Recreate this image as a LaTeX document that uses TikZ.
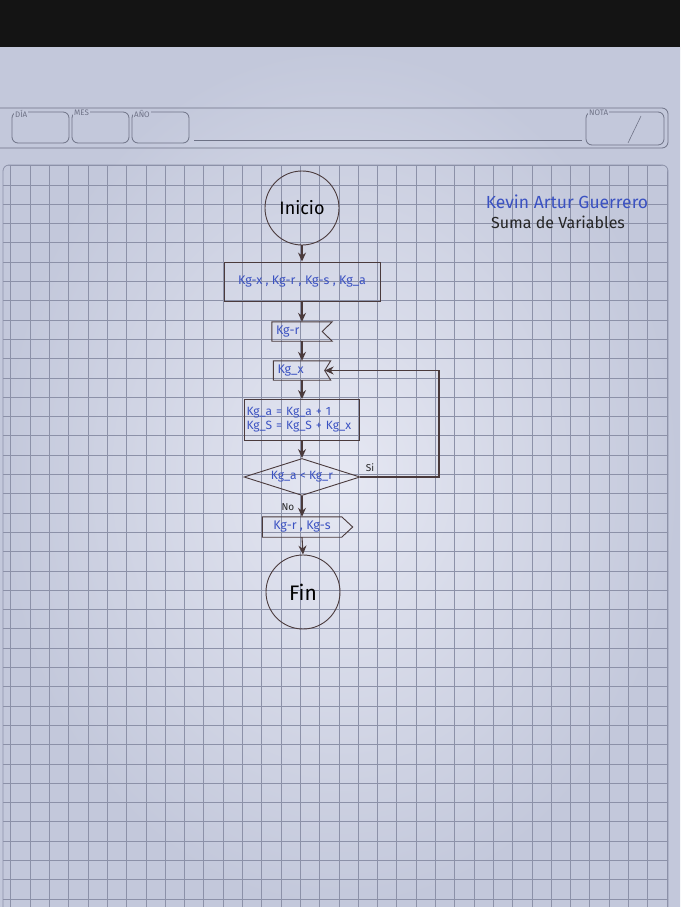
\documentclass[tikz,border=0pt]{standalone}
\usepackage{fontspec}
\setmainfont{Fira Sans}
\usetikzlibrary{shapes.geometric, arrows.meta}
\definecolor{papel}{HTML}{C3C8DB}
\definecolor{papelclaro}{HTML}{E6E8F3}
\definecolor{cuadro}{HTML}{8C91A8}
\definecolor{trazo}{HTML}{4A3A3C}
\definecolor{tinta}{HTML}{3B52C2}
\definecolor{impreso}{HTML}{6E7286}

\tikzset{
    circulo/.style = {draw = trazo, circle, line width = 0.9pt, minimum size = 74pt, inner sep = 0pt, font = \fontsize{18}{20}\selectfont},
    caja/.style = {draw = trazo, rectangle, line width = 0.9pt, inner sep = 2pt, text = tinta, font = \fontsize{12.5}{14}\selectfont},
    hueco/.style = {rectangle, inner sep = 2pt, text = tinta, font = \fontsize{12.5}{14}\selectfont},
    rombo/.style = {draw = trazo, diamond, aspect = 3.1, line width = 0.9pt, minimum width = 116pt, minimum height = 37pt, inner sep = 0pt, text = tinta, font = \fontsize{12}{14}\selectfont},
    link/.style = {-{Stealth[length = 9pt, width = 8pt]}, line width = 1.1pt, color = trazo},
    cuadricula/.style = {line width = 0.45pt, color = cuadro},
    marco/.style = {draw = impreso, line width = 0.8pt, rounded corners = 6pt},
    rotulo/.style = {fill = papel, inner sep = 1pt, text = impreso, font = \fontsize{8}{9}\selectfont}
}

\begin{document}
\begin{tikzpicture}[x = 1pt, y = -1pt]
        \useasboundingbox (0, 0) rectangle (680, 907);

        % Paper and notebook
        \fill [black!92] (0, 0) rectangle (680, 48);
        \shade [inner color = papelclaro, outer color = papel] (0, 48) rectangle (680, 907);

        % Header
        \draw [marco] (-10, 108) rectangle (668, 148);
        \draw [marco] (12, 112) rectangle (69, 143);
        \draw [marco] (72, 112) rectangle (129, 143);
        \draw [marco] (132, 112) rectangle (189, 143);
        \draw [impreso, line width = 0.6pt] (194, 140) -- (582, 140);
        \draw [marco] (586, 112) rectangle (664, 145);
        \draw [impreso, line width = 0.6pt] (628, 143) -- (641, 116);
        \node [rotulo, anchor = north west] at (14, 109) {DÍA};
        \node [rotulo, anchor = north west] at (73, 109) {MES};
        \node [rotulo, anchor = north west] at (133, 109) {AÑO};
        \node [rotulo, anchor = north west] at (588, 109) {NOTA};

        % Grid
        \begin{scope}
            \clip [rounded corners = 8pt] (3, 165) rectangle (668, 930);
            \foreach \i in {0,...,34} \draw [cuadricula] ({10.7 + 19.3*\i}, 160) -- ++(0, 780);
            \foreach \j in {0,...,40} \draw [cuadricula] (0, {165.5 + 19.3*\j}) -- ++(680, 0);
        \end{scope}
        \draw [marco, draw = cuadro] (3, 165) rectangle (668, 930);

        % Names
        \node [text = tinta, font = \fontsize{17.5}{19}\selectfont] (autor) at (567, 202) {Kevin Artur Guerrero};
        \node [text = black!85, font = \fontsize{16}{18}\selectfont] (titulo) at (558, 222) {Suma de Variables};

        % Nodes
        \node [circulo] (inicio) at (302, 208) {Inicio};
        \node [caja, minimum width = 156pt, minimum height = 39pt] (entrada) at (302, 281.5) {Kg-x , Kg-r , Kg-s , Kg\_a};
        \node [hueco, minimum width = 60pt, minimum height = 19pt, text width = 52pt] (leer) at (302, 331.5) {Kg-r};
        \node [hueco, minimum width = 57pt, minimum height = 19pt, text width = 49pt] (leerx) at (302, 370.5) {Kg\_x};
        \node [caja, minimum width = 115pt, minimum height = 41pt, text width = 111pt, align = left, inner sep = 1pt, font = \fontsize{12}{14}\selectfont] (proceso) at (302, 420) {Kg\_a = Kg\_a + 1\\Kg\_S = Kg\_S + Kg\_x};
        \node [rombo] (condicion) at (302, 477) {Kg\_a < Kg\_r};
        \node [hueco, minimum width = 79pt, minimum height = 20pt] (salida) at (302, 527) {Kg-r , Kg-s};
        \node [circulo, font = \fontsize{21}{23}\selectfont] (fin) at (303, 592) {Fin};

        % Outlines of the reading and output boxes
        \draw [trazo, line width = 0.9pt] (leer.north west) -- (leer.north east) -- ([xshift = -10pt]leer.east) -- (leer.south east) -- (leer.south west) -- cycle;
        \draw [trazo, line width = 0.9pt] (leerx.north west) -- (leerx.north east) -- ([xshift = -6pt]leerx.east) -- (leerx.south east) -- (leerx.south west) -- cycle;
        \draw [trazo, line width = 0.9pt] (salida.north west) -- (salida.north east) -- ([xshift = 11pt]salida.east) -- (salida.south east) -- (salida.south west) -- cycle;

        % Draw the links
        \draw [link] (inicio.south) -- (entrada.north);
        \draw [link] (entrada.south) -- (leer.north);
        \draw [link] (leer.south) -- (leerx.north);
        \draw [link] (leerx.south) -- (proceso.north);
        \draw [link] (proceso.south) -- (condicion.north);
        \draw [link] (condicion.south) -- (salida.north);
        \draw [link] (salida.south) -- (fin.north);
        \draw [link] (condicion.east) -- (439, 477) |- ([xshift = -6pt]leerx.east);

        % Branch labels
        \node [font = \fontsize{10}{11}\selectfont, text = black!85] (si) at (370, 468) {Si};
        \node [font = \fontsize{10}{11}\selectfont, text = black!85] (no) at (288, 507) {No};

    \end{tikzpicture}
\end{document}
